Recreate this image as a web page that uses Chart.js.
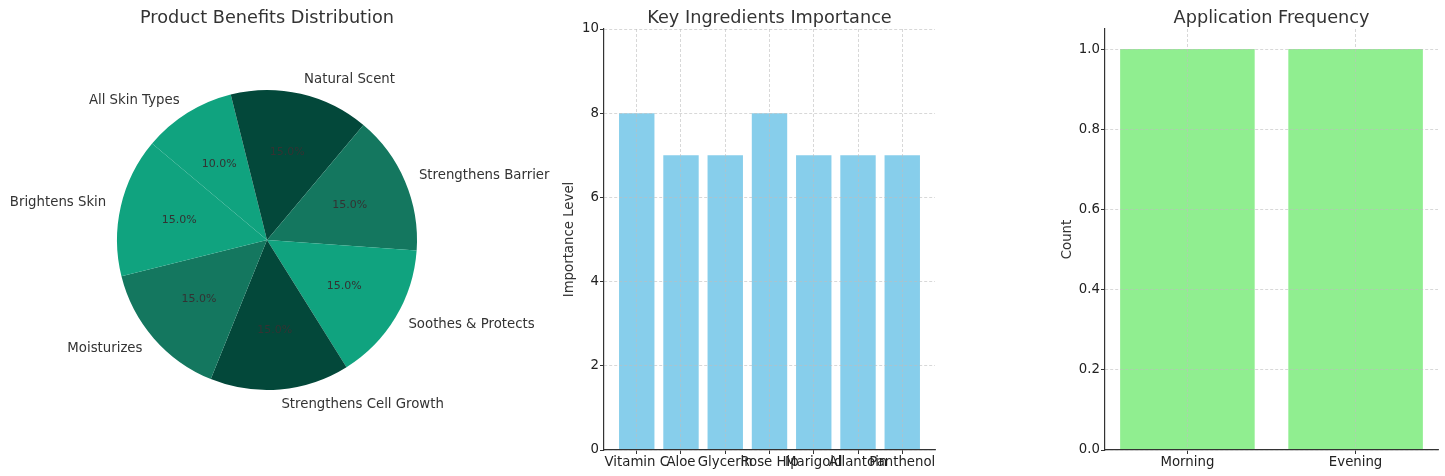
<!DOCTYPE html>
<html>
<head>
<meta charset="utf-8">
<script src="https://cdn.jsdelivr.net/npm/chart.js@4/dist/chart.umd.min.js"></script>
<style>
  html, body { margin: 0; padding: 0; background: #ffffff; }
  body { width: 1445px; height: 476px; position: relative; overflow: hidden; }
  .panel { position: absolute; top: 0; height: 476px; }
</style>
</head>
<body>
<div class="panel" id="p1" style="left:0px;width:600px;"><canvas id="c1"></canvas></div>
<div class="panel" id="p2" style="left:558px;width:382px;"><canvas id="c2"></canvas></div>
<div class="panel" id="p3" style="left:1056px;width:387px;"><canvas id="c3"></canvas></div>
<script>
// ---- Data ----
const benefitLabels = ['All Skin Types', 'Natural Scent', 'Strengthens Barrier', 'Soothes & Protects', 'Strengthens Cell Growth', 'Moisturizes', 'Brightens Skin'];
const benefitValues = [10, 15, 15, 15, 15, 15, 15];
const benefitColors = ['#10A37F', '#03483A', '#14775F', '#10A37F', '#03483A', '#14775F', '#10A37F'];

const ingredientLabels = ['Vitamin C', 'Aloe', 'Glycerin', 'Rose Hip', 'Marigold', 'Allantoin', 'Panthenol'];
const ingredientValues = [8, 7, 7, 8, 7, 7, 7];
const ingredientTicks = [0, 2, 4, 6, 8, 10];

const frequencyLabels = ['Morning', 'Evening'];
const frequencyValues = [1, 1];
const frequencyTicks = [0, 0.2, 0.4, 0.6, 0.8, 1.0];

// ---- Styling ----
const FONT = "'DejaVu Sans', 'Liberation Sans', sans-serif";
const TEXT = '#333333';
Chart.defaults.font.family = FONT;
Chart.defaults.color = TEXT;
Chart.defaults.animation = false;

const panelTitle = {
  id: 'panelTitle',
  afterDraw(chart, args, opts) {
    const ctx = chart.ctx;
    const a = chart.chartArea;
    ctx.save();
    ctx.font = '17.7px ' + FONT;
    ctx.fillStyle = TEXT;
    ctx.textAlign = 'center';
    ctx.textBaseline = 'alphabetic';
    ctx.fillText(opts.text, (a.left + a.right) / 2, 22.5);
    ctx.restore();
  }
};

const pieLabels = {
  id: 'pieLabels',
  afterDatasetsDraw(chart) {
    const ctx = chart.ctx;
    const meta = chart.getDatasetMeta(0);
    const data = chart.data.datasets[0].data;
    const total = data.reduce((s, v) => s + v, 0);
    ctx.save();
    meta.data.forEach((arc, i) => {
      const mid = (arc.startAngle + arc.endAngle) / 2;
      const r = arc.outerRadius;
      const c = Math.cos(mid), s = Math.sin(mid);
      ctx.font = '13.3px ' + FONT;
      ctx.fillStyle = TEXT;
      ctx.textBaseline = 'middle';
      ctx.textAlign = c >= 0 ? 'left' : 'right';
      ctx.fillText(chart.data.labels[i], arc.x + c * r * 1.1, arc.y + s * r * 1.1);
      ctx.font = '11px ' + FONT;
      ctx.fillStyle = '#333333';
      ctx.textAlign = 'center';
      ctx.fillText((data[i] / total * 100).toFixed(1) + '%', arc.x + c * r * 0.6, arc.y + s * r * 0.6);
    });
    ctx.restore();
  }
};

// ---- Pie ----
new Chart(document.getElementById('c1'), {
  type: 'pie',
  data: {
    labels: benefitLabels,
    datasets: [{ data: benefitValues, backgroundColor: benefitColors, borderWidth: 0 }]
  },
  options: {
    responsive: true,
    maintainAspectRatio: false,
    rotation: -50,
    layout: { padding: { left: 117, right: 183, top: 90, bottom: 86 } },
    plugins: {
      legend: { display: false },
      tooltip: { enabled: false },
      panelTitle: { text: 'Product Benefits Distribution' }
    }
  },
  plugins: [pieLabels, panelTitle]
});

// ---- Bar chart helper ----
function barChart(canvasId, labels, values, ticks, color, yMax, xMin, xMax, yTitle, yWidth, title, fmt) {
  const gridOpts = {
    color: 'rgba(190,190,190,0.75)',
    lineWidth: 0.8,
    offset: false,
    z: 1,
    tickLength: 4,
    tickColor: '#333333',
    tickWidth: 1,
    tickBorderDash: []
  };
  return new Chart(document.getElementById(canvasId), {
    type: 'bar',
    data: {
      datasets: [{
        data: values.map((v, i) => ({ x: i, y: v })),
        backgroundColor: color,
        borderWidth: 0,
        barPercentage: 0.8,
        categoryPercentage: 1.0
      }]
    },
    options: {
      responsive: true,
      maintainAspectRatio: false,
      layout: { padding: { left: 0, right: 5, top: 29, bottom: 0 } },
      scales: {
        x: {
          type: 'linear',
          offset: false,
          min: xMin,
          max: xMax,
          afterBuildTicks: (scale) => { scale.ticks = labels.map((l, i) => ({ value: i })); },
          afterFit: (scale) => { scale.height = 26; },
          ticks: {
            autoSkip: false,
            maxRotation: 0,
            minRotation: 0,
            padding: 1,
            color: '#222222',
            font: { size: 13.3 },
            callback: (v) => labels[v]
          },
          grid: gridOpts,
          border: { display: true, color: '#333333', width: 1.2, dash: [3, 2], z: 1 }
        },
        y: {
          min: 0,
          max: yMax,
          afterBuildTicks: (scale) => { scale.ticks = ticks.map(v => ({ value: v })); },
          afterFit: (scale) => { scale.width = yWidth; },
          ticks: {
            padding: 1,
            color: '#222222',
            font: { size: 13.3 },
            callback: fmt
          },
          grid: gridOpts,
          border: { display: true, color: '#333333', width: 1.2, dash: [3, 2], z: 1 },
          title: { display: true, text: yTitle, color: TEXT, font: { size: 13.3 }, padding: { top: 4, bottom: 4 } }
        }
      },
      plugins: {
        legend: { display: false },
        tooltip: { enabled: false },
        panelTitle: { text: title }
      }
    },
    plugins: [panelTitle]
  });
}

barChart('c2', ingredientLabels, ingredientValues, ingredientTicks, '#87CEEB', 10, -0.74, 6.74,
  'Importance Level', 46, 'Key Ingredients Importance', (v) => String(v));
barChart('c3', frequencyLabels, frequencyValues, frequencyTicks, '#90EE90', 1.05, -0.49, 1.49,
  'Count', 49, 'Application Frequency', (v) => Number(v).toFixed(1));
</script>
</body>
</html>
